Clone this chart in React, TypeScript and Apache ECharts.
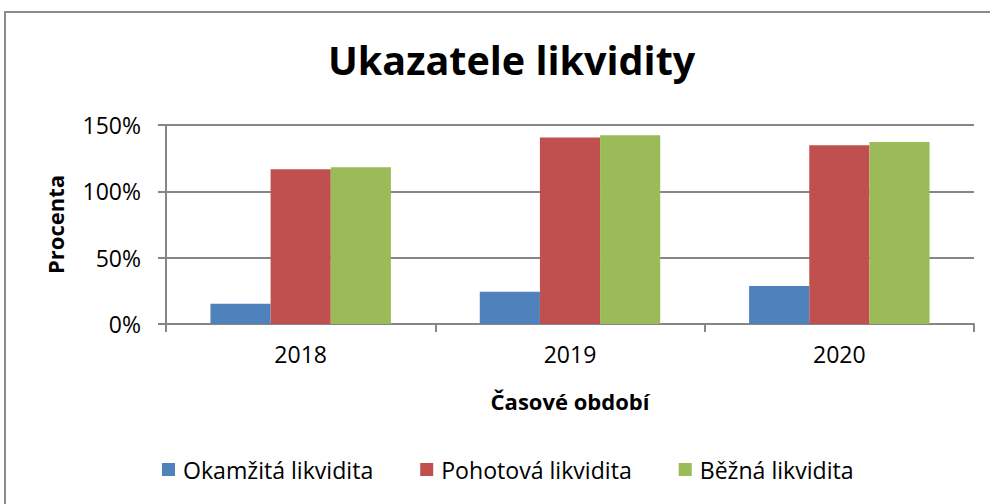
import React, { useEffect, useRef } from "react";
import * as echarts from "echarts";

const categories = ["2018", "2019", "2020"];
const seriesNames = ["Okamžitá likvidita", "Pohotová likvidita", "Běžná likvidita"];
const okamzita = [15.2, 24.3, 28.6];
const pohotova = [116.6, 140.6, 134.8];
const bezna = [118.2, 142.3, 137.1];
const colors = ["#4F81BD", "#C0504D", "#9BBB59"];
const yTicks = { min: 0, max: 150, interval: 50 };

const FONT = "Open Sans";

export default function App() {
  const ref = useRef<HTMLDivElement>(null);
  useEffect(() => {
    if (!ref.current) return;
    const chart = echarts.init(ref.current, null, { renderer: "svg" });
    const values = [okamzita, pohotova, bezna];
    chart.setOption({
      animation: false,
      backgroundColor: "#ffffff",
      title: {
        text: "Ukazatele likvidity",
        left: 323,
        top: 35,
        textStyle: { fontFamily: FONT, fontWeight: "bold", fontSize: 39.5, color: "#000" },
      },
      graphic: [
        {
          type: "rect",
          shape: { x: 5, y: 12, width: 1000, height: 600 },
          style: { fill: "none", stroke: "#8c8c8c", lineWidth: 2 },
          silent: true,
        },
      ],
      legend: {
        bottom: 18,
        left: 157,
        itemWidth: 13,
        itemHeight: 13,
        itemGap: 47,
        icon: "rect",
        textStyle: { fontFamily: FONT, fontSize: 23.1, color: "#000", padding: [0, 0, 0, 3] },
        data: seriesNames,
      },
      grid: { left: 166, right: 16, top: 125, bottom: 180 },
      xAxis: {
        type: "category",
        data: categories,
        name: "Časové období",
        nameLocation: "middle",
        nameGap: 66,
        nameTextStyle: { fontFamily: FONT, fontWeight: "bold", fontSize: 22, color: "#000" },
        axisLine: { lineStyle: { color: "#868686", width: 2 } },
        axisTick: { show: true, length: 8, lineStyle: { color: "#868686", width: 2 } },
        axisLabel: { fontFamily: FONT, fontSize: 23, color: "#000", margin: 18 },
      },
      yAxis: {
        type: "value",
        min: yTicks.min,
        max: yTicks.max,
        interval: yTicks.interval,
        name: "Procenta",
        nameLocation: "middle",
        nameRotate: 90,
        nameGap: 100,
        nameTextStyle: { fontFamily: FONT, fontWeight: "bold", fontSize: 22, color: "#000" },
        axisLine: { show: true, lineStyle: { color: "#868686", width: 2 } },
        axisTick: { show: true, length: 8, lineStyle: { color: "#868686", width: 2 } },
        splitLine: { show: true, lineStyle: { color: "#868686", width: 2 } },
        axisLabel: { fontFamily: FONT, fontSize: 23, color: "#000", margin: 25, formatter: "{value}%" },
      },
      series: seriesNames.map((name, i) => ({
        name,
        type: "bar",
        data: values[i],
        barGap: "0%",
        barCategoryGap: "33%",
        itemStyle: { color: colors[i] },
      })),
    });
    return () => chart.dispose();
  }, []);
  return <div ref={ref} style={{ position: "fixed", left: 0, top: 0, width: 990, height: 504 }} />;
}
